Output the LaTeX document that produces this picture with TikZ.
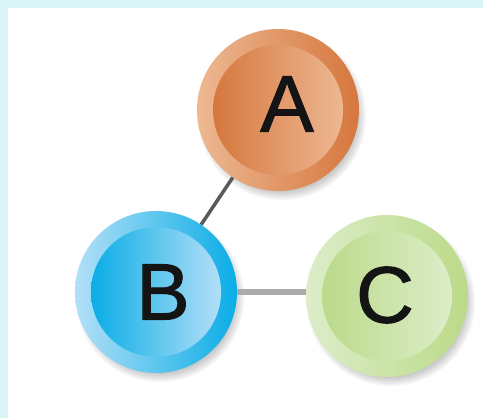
\documentclass[tikz,border=0pt]{standalone}
\usepackage{fontspec}
\setmainfont{Liberation Sans}
\newfontfamily\lblfont[FakeBold=1.3]{Liberation Sans}
\definecolor{bgcyan}{HTML}{DBF4F8}
\definecolor{aLight}{HTML}{EDB892}
\definecolor{aDark}{HTML}{D6773E}
\definecolor{bLight}{HTML}{B3DFF7}
\definecolor{bDark}{HTML}{0AADE6}
\definecolor{cLight}{HTML}{DCEDC9}
\definecolor{cDark}{HTML}{BBDA89}
\tikzset{
  ball/.style n args={2}{circle, minimum size=162pt, inner sep=0pt,
    shading=axis, left color=#1, right color=#2, shading angle=90},
  core/.style n args={2}{circle, minimum size=130pt, inner sep=0pt,
    shading=axis, left color=#1, right color=#2, shading angle=90},
  softshadow/.style={fill=black, fill opacity=0.045},
  lbl/.style={font=\lblfont\fontsize{80}{80}\selectfont, text=black!92},
  linkdark/.style={draw=black!65, line width=3.5pt},
  linklight/.style={draw=black!33, line width=6.5pt}
}
\begin{document}
\begin{tikzpicture}[x=1pt,y=-1pt]
\useasboundingbox (0,0) rectangle (483,418);
\fill[bgcyan] (0,0) rectangle (483,418);
\fill[white] (8,8) rectangle (483,418);
\coordinate (pa) at (278,110);
\coordinate (pb) at (156,292);
\coordinate (pc) at (387,296);
\foreach \p in {pa,pb,pc}{
  \foreach \r in {84,82,80,78,76}{
    \fill[softshadow, shift={(\p)}] (4,6) circle (\r pt);
  }
}
\node[ball={aLight}{aDark}] (A) at (pa) {};
\node[ball={bLight}{bDark}] (B) at (pb) {};
\node[ball={cLight}{cDark}] (C) at (pc) {};
\draw[linkdark] (A) -- (B);
\draw[linklight] (B.east) -- (C.west |- B.east);
\node[core={aDark}{aLight}] (Ai) at (pa) {};
\node[core={bDark}{bLight}] (Bi) at (pb) {};
\node[core={cDark}{cLight}] (Ci) at (pc) {};
\node[lbl] (Al) at (287,104) {A};
\node[lbl] (Bl) at (163,292) {B};
\node[lbl] (Cl) at (385,295) {C};
\end{tikzpicture}
\end{document}
